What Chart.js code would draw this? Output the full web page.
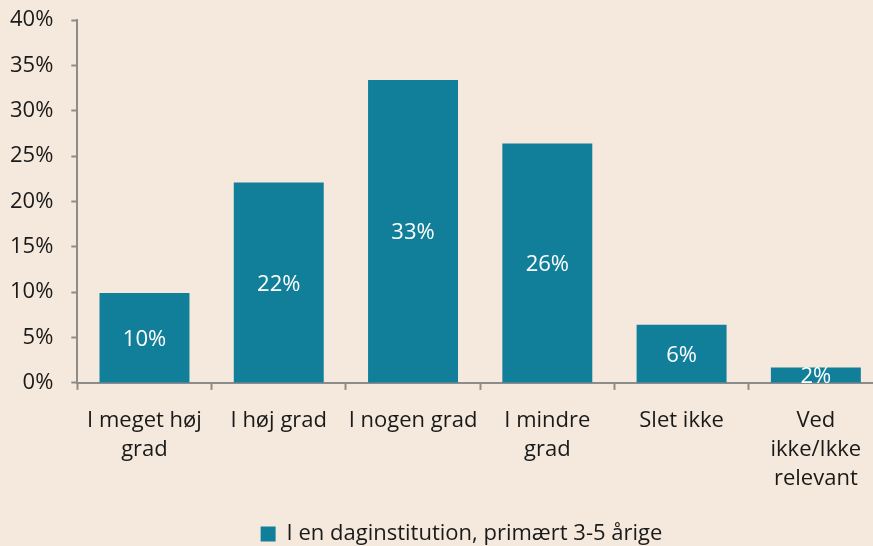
<!DOCTYPE html>
<html lang="da">
<head>
  <meta charset="UTF-8" />
  <title>I en daginstitution, primært 3-5 årige</title>
  <script src="https://cdn.jsdelivr.net/npm/chart.js"></script>
  <style>
    html, body {
      margin: 0;
      padding: 0;
      background: #f5e9dd;
      overflow: hidden;
    }
    .wrap {
      width: 918px;
      height: 546px;
    }
  </style>
</head>
<body>
  <div class="wrap">
    <canvas id="chart" width="918" height="546"></canvas>
  </div>

  <script>
    // data
    const categories = [
      ["I meget høj", "grad"],
      ["I høj grad"],
      ["I nogen grad"],
      ["I mindre", "grad"],
      ["Slet ikke"],
      ["Ved", "ikke/Ikke", "relevant"]
    ];
    const seriesName = "I en daginstitution, primært 3-5 årige";
    const shares = [9.9, 22.1, 33.4, 26.4, 6.4, 1.7];
    const yTicks = [0, 5, 10, 15, 20, 25, 30, 35, 40];

    const teal = '#127f9a';
    const axisGrey = '#8c8c8c';
    const textColor = '#1a1a1a';
    const fontFamily = "'Open Sans', 'Noto Sans', sans-serif";

    // white percentage text in the middle of each bar
    const barLabels = {
      id: 'barLabels',
      afterDatasetsDraw(chart) {
        const ctx = chart.ctx;
        const meta = chart.getDatasetMeta(0);
        ctx.save();
        ctx.fillStyle = '#ffffff';
        ctx.font = '22px ' + fontFamily;
        ctx.textAlign = 'center';
        ctx.textBaseline = 'middle';
        meta.data.forEach((bar, i) => {
          const mid = (bar.y + bar.base) / 2 + 2;
          ctx.fillText(Math.round(shares[i]) + '%', bar.x, mid);
        });
        ctx.restore();
      }
    };

    // the legend sits a little right of the canvas centre in the original
    const legendShift = {
      id: 'legendShift',
      afterLayout(chart) {
        chart.legend.left += 24;
        chart.legend.right += 24;
      }
    };

    new Chart(document.getElementById('chart'), {
      type: 'bar',
      data: {
        labels: categories,
        datasets: [{
          label: seriesName,
          data: shares,
          backgroundColor: teal,
          borderWidth: 0,
          barPercentage: 0.67,
          categoryPercentage: 1
        }]
      },
      options: {
        responsive: false,
        animation: false,
        layout: {
          padding: { top: 20, left: -8, right: 35, bottom: -9 }
        },
        plugins: {
          legend: {
            position: 'bottom',
            labels: {
              boxWidth: 15,
              boxHeight: 15,
              color: textColor,
              padding: 2,
              font: { family: fontFamily, size: 22 }
            }
          },
          tooltip: { enabled: false }
        },
        scales: {
          x: {
            border: { color: axisGrey, width: 2 },
            grid: {
              drawOnChartArea: false,
              drawTicks: true,
              tickLength: 7,
              tickWidth: 2,
              color: axisGrey,
              offset: true
            },
            ticks: {
              color: textColor,
              padding: 16,
              maxRotation: 0,
              autoSkip: false,
              font: { family: fontFamily, size: 22, lineHeight: 1.32 }
            },
            afterFit(axis) {
              axis.height += 12;
            }
          },
          y: {
            min: 0,
            max: 40,
            afterBuildTicks(axis) {
              axis.ticks = yTicks.map(v => ({ value: v }));
            },
            afterFit(axis) {
              axis.paddingTop = 0;
              axis.paddingBottom = 0;
            },
            border: { color: axisGrey, width: 2 },
            grid: {
              drawOnChartArea: false,
              tickLength: 6,
              tickWidth: 2,
              color: axisGrey
            },
            ticks: {
              color: textColor,
              padding: 18,
              font: { family: fontFamily, size: 22 },
              callback: v => v + '%'
            }
          }
        }
      },
      plugins: [barLabels, legendShift]
    });
  </script>
</body>
</html>
